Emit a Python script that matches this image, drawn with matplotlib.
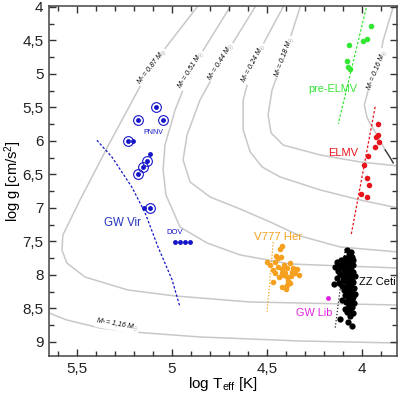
import matplotlib
matplotlib.use('Agg')
import matplotlib.pyplot as plt
from matplotlib.ticker import MultipleLocator, FuncFormatter

plt.rcParams['font.family'] = ['Liberation Sans', 'DejaVu Sans']
plt.rcParams['mathtext.fontset'] = 'custom'
plt.rcParams['mathtext.rm'] = 'Liberation Sans'
plt.rcParams['mathtext.it'] = 'Liberation Sans:italic'

# evolutionary tracks (log Teff, log g)
trk_087_t = [4.868, 5.116, 5.342, 5.484, 5.574, 5.579, 5.553, 5.458, 5.232, 4.984, 4.589, 3.811]
trk_087_g = [4.0, 4.910, 6.104, 6.881, 7.403, 7.627, 7.821, 8.030, 8.224, 8.313, 8.403, 8.448]
trk_051_t = [4.695, 4.900, 4.984, 5.037, 5.047, 5.032, 4.958, 4.816, 4.642, 4.379, 3.811]
trk_051_g = [4.0, 4.940, 5.537, 6.060, 6.433, 6.806, 7.284, 7.522, 7.701, 7.836, 7.896]
trk_044_t = [4.563, 4.742, 4.853, 4.921, 4.942, 4.905, 4.800, 4.642, 4.484, 4.326, 4.116, 3.811]
trk_044_g = [4.0, 4.821, 5.388, 5.910, 6.284, 6.612, 6.836, 7.015, 7.209, 7.418, 7.582, 7.657]
trk_024_t = [4.416, 4.574, 4.626, 4.626, 4.589, 4.526, 4.432, 4.221, 4.011, 3.811]
trk_024_g = [4.0, 4.836, 5.388, 5.836, 6.164, 6.388, 6.537, 6.731, 6.881, 7.0]
trk_018_t = [4.326, 4.411, 4.474, 4.495, 4.479, 4.416, 4.221, 4.011, 3.811]
trk_018_g = [4.0, 4.746, 5.239, 5.612, 5.881, 6.060, 6.209, 6.313, 6.373]
trk_016_t = [3.837, 3.889, 3.921, 3.968, 3.989, 3.974, 3.932, 3.879]
trk_016_g = [4.0, 4.493, 4.940, 5.239, 5.463, 5.657, 5.866, 6.134]
trk_016_end_t = [3.879, 3.853, 3.837]
trk_016_end_g = [6.134, 6.250, 6.328]
trk_116_t = [5.647, 5.553, 5.379, 5.205, 4.853, 4.326, 3.811]
trk_116_g = [8.567, 8.672, 8.791, 8.851, 8.925, 8.985, 9.015]

track_labels = ["0.87", "0.51", "0.44", "0.24", "0.18", "0.16", "1,16"]
label_t = [5.105, 4.900, 4.742, 4.574, 4.411, 3.921, 5.289]
label_g = [4.896, 4.940, 4.821, 4.836, 4.746, 4.940, 8.746]
label_rot = [52, 58, 58, 62, 70, 68, -10]

# PNNV / GW Vir
pnnv_circ_t = [5.084, 5.179, 5.047, 5.232, 5.132, 5.153, 5.179, 5.116]
pnnv_circ_g = [5.49, 5.69, 5.69, 6.00, 6.30, 6.39, 6.49, 7.00]
pnnv_dot_t = [5.205, 5.116, 5.147]
pnnv_dot_g = [6.00, 6.19, 7.00]
dov_t = [4.984, 4.958, 4.932, 4.905]
dov_g = [7.51, 7.51, 7.51, 7.51]
gwvir_edge_t = [5.395, 5.316, 5.211, 5.142, 5.074, 5.000, 4.958]
gwvir_edge_g = [5.99, 6.24, 6.69, 7.07, 7.58, 8.07, 8.48]

# V777 Her
v777_t = [4.421, 4.432, 4.453, 4.426, 4.442, 4.500, 4.458, 4.379, 4.411, 4.442, 4.468,
          4.421, 4.395, 4.363, 4.342, 4.368, 4.421, 4.405, 4.353, 4.332, 4.458, 4.437,
          4.395, 4.379, 4.395, 4.421, 4.400, 4.468, 4.416, 4.484, 4.374, 4.389]
v777_g = [7.567, 7.612, 7.716, 7.731, 7.746, 7.806, 7.806, 7.821, 7.851, 7.881, 7.925,
          7.910, 7.896, 7.896, 7.910, 7.955, 7.970, 7.970, 7.970, 8.000, 7.970, 8.030,
          8.030, 8.119, 8.149, 8.179, 8.209, 8.104, 8.000, 7.851, 8.015, 8.090]
v777_edge_t = [4.468, 4.500]
v777_edge_g = [7.51, 8.55]

# ZZ Ceti
zz_t = [4.079, 4.058, 4.068, 4.053, 4.089, 4.111, 4.074, 4.132, 4.100, 4.063, 4.121, 4.084,
        4.047, 4.142, 4.111, 4.074, 4.095, 4.058, 4.126, 4.084, 4.047, 4.116, 4.068, 4.100,
        4.053, 4.079, 4.063, 4.089, 4.047, 4.147, 4.074, 4.058, 4.084, 4.042, 4.068, 4.053,
        4.079, 4.063, 4.047, 4.074, 4.058, 4.084, 4.042, 4.068, 4.053, 4.063, 4.079, 4.047,
        4.063, 4.116, 4.074, 4.053, 4.089, 4.105, 4.095, 4.132, 4.121, 4.105, 4.037, 4.037,
        4.047, 4.095, 4.068, 4.100, 4.058, 4.079, 4.063, 4.089, 4.053, 4.068, 4.074]
zz_g = [7.627, 7.657, 7.701, 7.731, 7.746, 7.776, 7.776, 7.806, 7.821, 7.821, 7.851, 7.851,
        7.851, 7.881, 7.881, 7.896, 7.925, 7.925, 7.940, 7.955, 7.955, 7.985, 8.000, 8.015,
        8.030, 8.045, 8.075, 8.090, 8.104, 8.134, 8.134, 8.164, 8.179, 8.194, 8.224, 8.254,
        8.269, 8.299, 8.328, 8.343, 8.373, 8.403, 8.418, 8.448, 8.478, 8.522, 8.552, 8.567,
        8.612, 8.657, 8.701, 8.761, 8.507, 8.373, 8.224, 8.045, 8.119, 8.164, 8.284, 8.015,
        7.776, 7.806, 7.896, 8.075, 8.060, 8.194, 8.209, 8.299, 8.358, 8.403, 8.493]
zz_edge_t = [4.089, 4.142]
zz_edge_g = [7.61, 8.79]

gwlib_t = [4.179]
gwlib_g = [8.343]

# ELMV and pre-ELMV
elmv_t = [3.916, 3.916, 3.926, 3.911, 3.932, 3.968, 3.989, 3.974, 3.963, 4.005, 3.974]
elmv_g = [5.746, 5.910, 5.940, 6.015, 6.090, 6.224, 6.358, 6.552, 6.657, 6.791, 6.836]
elmv_edge_t = [3.932, 4.058]
elmv_edge_g = [5.49, 7.40]
pre_t = [3.953, 3.974, 3.995, 4.068, 4.079, 4.074, 4.063]
pre_g = [4.284, 4.478, 4.507, 4.567, 4.806, 4.896, 4.925]
pre_edge_t = [3.979, 4.126]
pre_edge_g = [4.015, 5.746]

BLUE = '#1414c8'
ORANGE = '#f5a01e'
RED = '#e8141c'
GREEN = '#33e633'
MAGENTA = '#e020e0'
GREY = '#c8c8c8'

fig = plt.figure(figsize=(4.0, 3.96), dpi=100)
ax = fig.add_axes([0.1225, 0.101, 0.8705, 0.884])

tracks = [(trk_087_t, trk_087_g), (trk_051_t, trk_051_g), (trk_044_t, trk_044_g),
          (trk_024_t, trk_024_g), (trk_018_t, trk_018_g), (trk_016_t, trk_016_g),
          (trk_116_t, trk_116_g)]
for tt, gg in tracks:
    ax.plot(tt, gg, color=GREY, lw=1.1, zorder=1)
ax.plot(trk_016_end_t, trk_016_end_g, color='#333333', lw=1.0, zorder=1)

for lab, lt, lg, rot in zip(track_labels, label_t, label_g, label_rot):
    ax.text(lt, lg, r"$M_*$= " + lab + r" $M_\odot$", fontsize=5, style='italic',
            rotation=rot, rotation_mode='anchor', ha='center', va='center', zorder=2,
            bbox=dict(facecolor='white', edgecolor='none', pad=0.3))

# instability strip edges
ax.plot(gwvir_edge_t, gwvir_edge_g, color=BLUE, lw=0.9, ls=(0, (2, 1.5)), zorder=3)
ax.plot(v777_edge_t, v777_edge_g, color=ORANGE, lw=0.9, ls=(0, (1, 1.5)), zorder=3)
ax.plot(zz_edge_t, zz_edge_g, color='#222222', lw=0.9, ls=(0, (1, 1.5)), zorder=3)
ax.plot(elmv_edge_t, elmv_edge_g, color=RED, lw=0.9, ls=(0, (2, 1.5)), zorder=3)
ax.plot(pre_edge_t, pre_edge_g, color=GREEN, lw=0.9, ls=(0, (2, 1.5)), zorder=3)

# stars
ax.plot(pnnv_circ_t, pnnv_circ_g, 'o', ms=7, mfc='none', mec=BLUE, mew=0.8, zorder=4)
ax.plot(pnnv_circ_t, pnnv_circ_g, 'o', ms=3.5, color=BLUE, mew=0, zorder=4)
ax.plot(pnnv_dot_t, pnnv_dot_g, 'o', ms=3.5, color=BLUE, mew=0, zorder=4)
ax.plot(dov_t, dov_g, 'o', ms=3.5, color=BLUE, mew=0, zorder=4)
ax.plot(v777_t, v777_g, 'o', ms=4, color=ORANGE, mew=0, zorder=4)
ax.plot(zz_t, zz_g, 'o', ms=4.5, color='black', mew=0, zorder=4)
ax.plot(gwlib_t, gwlib_g, 'o', ms=3.5, color=MAGENTA, mew=0, zorder=4)
ax.plot(elmv_t, elmv_g, 'o', ms=4, color=RED, mew=0, zorder=4)
ax.plot(pre_t, pre_g, 'o', ms=4, color=GREEN, mew=0, zorder=4)

# class labels
ax.text(5.10, 5.88, "PNNV", color=BLUE, fontsize=5, ha='center', va='center')
ax.text(4.984, 7.37, "DOV", color=BLUE, fontsize=5.5, ha='center', va='center')
ax.text(5.258, 7.22, "GW Vir", color='#2233bb', fontsize=8.3, ha='center', va='center')
ax.text(4.442, 7.43, "V777 Her", color=ORANGE, fontsize=8.2, ha='center', va='center')
ax.text(3.922, 8.104, "ZZ Ceti", color='black', fontsize=8, ha='center', va='center')
ax.text(4.253, 8.567, "GW Lib", color=MAGENTA, fontsize=7.8, ha='center', va='center')
ax.text(4.100, 6.18, "ELMV", color=RED, fontsize=8, ha='center', va='center')
ax.text(4.153, 5.224, "pre-ELMV", color=GREEN, fontsize=7.8, ha='center', va='center')

ax.set_xlim(5.647, 3.816)
ax.set_ylim(9.209, 3.985)

comma = FuncFormatter(lambda v, p: f"{v:g}".replace('.', ','))
ax.xaxis.set_major_locator(MultipleLocator(0.5))
ax.xaxis.set_minor_locator(MultipleLocator(0.1))
ax.yaxis.set_major_locator(MultipleLocator(0.5))
ax.yaxis.set_minor_locator(MultipleLocator(0.25))
ax.xaxis.set_major_formatter(comma)
ax.yaxis.set_major_formatter(comma)
ax.tick_params(which='both', direction='in', top=True, right=True, labelsize=11,
               color='#333333', width=1.0, labelcolor='#222222')
ax.tick_params(which='major', length=5, pad=4)
ax.tick_params(which='minor', length=3.5)
for s in ax.spines.values():
    s.set_color('#444444')
    s.set_linewidth(1.1)

ax.set_xlabel(r"log T$_{\rm eff}$ [K]", fontsize=11)
ax.set_ylabel(r"log g [cm/s$^2$]", fontsize=10.5)
ax.xaxis.set_label_coords(0.5, -0.055)
ax.yaxis.set_label_coords(-0.072, 0.5)

fig.savefig("out.png", dpi=100)
